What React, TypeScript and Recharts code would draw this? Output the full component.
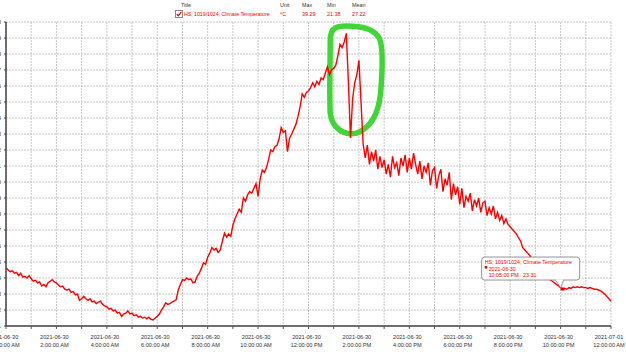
import React from 'react'
import { LineChart, Line, XAxis, YAxis, CartesianGrid, ReferenceArea, ReferenceDot } from 'recharts'

// Climate temperature, one reading every 5 minutes from 2021-06-30 00:00
const nightTemps = [
  24.64, 24.5, 24.4, 24.45, 24.3, 24.35, 24.15, 24.3, 24.05, 24.1, 24.0, 24.15,
  23.95, 23.8, 23.85, 23.7, 23.75, 23.5, 23.6, 23.45, 23.7, 23.8, 23.9, 23.75,
  23.7, 23.55, 23.45, 23.5, 23.3, 23.25, 23.3, 23.1, 23.15, 22.95, 23.0, 22.6,
  22.7, 22.85, 22.7, 22.6, 22.7, 22.5, 22.55, 22.4, 22.5, 22.55, 22.35, 22.25,
  22.2, 22.05, 22.1, 21.95, 22.0, 21.8, 21.85, 21.6, 21.75, 21.8, 21.95, 21.75,
  21.8, 21.65, 21.7, 21.55, 21.6, 21.5, 21.55, 21.45, 21.55, 21.42, 21.38, 21.5,
]
const morningTemps = [
  21.6, 21.75, 22.0, 22.2, 22.45, 22.35, 22.4, 22.5, 22.55, 22.65, 23.25, 23.6,
  23.9, 23.85, 24.0, 23.9, 23.95, 23.7, 23.75, 24.1, 24.3, 24.6, 24.95, 24.85,
  25.3, 25.55, 25.9, 25.75, 25.85, 25.6, 25.75, 26.3, 26.8, 26.55, 26.75, 26.6,
  27.3, 27.7, 28.0, 28.3, 28.1, 29.0, 28.8, 29.2, 29.4, 29.3, 29.6, 29.9,
  29.1, 30.2, 30.75, 30.6, 30.9, 31.4, 32.0, 31.9, 32.2, 32.3, 32.7, 33.4,
  33.1, 33.2, 31.9, 32.75, 33.0, 33.3, 33.6, 34.1, 34.7, 35.5, 35.3, 35.6,
]
const middayTemps = [
  35.7, 35.9, 36.2, 35.95, 36.3, 36.1, 36.5, 36.4, 36.8, 37.2, 36.7, 37.0,
  37.1, 37.3, 37.9, 38.6, 38.4, 38.75, 39.29, 36.2, 32.75, 35.2, 36.2, 36.7,
  37.6, 35.0, 32.4, 31.5, 32.3, 31.1, 31.9, 31.3, 32.0, 30.8, 31.6, 30.9,
]
const afternoonTemps = [
  31.4, 30.5, 31.1, 30.3, 31.6, 30.9, 31.2, 30.4, 31.5, 31.0, 31.7, 30.6,
  31.5, 30.8, 31.8, 31.1, 30.5, 31.3, 30.2, 31.0, 30.6, 31.2, 29.8, 30.7,
  30.9, 29.6, 30.4, 30.8, 29.4, 30.2, 29.8, 30.6, 28.9, 29.9, 29.2, 29.7,
  28.6, 29.6, 28.4, 29.1, 28.8, 29.3, 28.2, 28.9, 28.5, 29.0, 28.1, 28.7,
  28.8, 27.9, 28.4, 28.0, 28.5, 27.7, 28.1, 27.6, 27.9, 27.4, 27.7, 27.35,
]
const eveningTemps = [
  27.2, 27.05, 26.9, 26.75, 26.5, 26.3, 25.9, 25.75, 25.6, 25.45, 25.3, 25.15,
  25.0, 24.9, 24.75, 24.6, 24.45, 24.3, 24.05, 23.9, 23.8, 23.7, 23.6, 23.5,
  23.4, 23.31, 23.35, 23.3, 23.4, 23.35, 23.45, 23.4, 23.45, 23.4, 23.45, 23.4,
  23.4, 23.35, 23.4, 23.35, 23.3, 23.3, 23.25, 23.2, 23.1, 23.0, 22.85, 22.7,
  22.55,
]

const yTicks = [21, 22, 23, 24, 25, 26, 27, 28, 29, 30, 31, 32, 33, 34, 35, 36, 37, 38, 39, 40]
const hourTicks = [0, 1, 2, 3, 4, 5, 6, 7, 8, 9, 10, 11, 12, 13, 14, 15, 16, 17, 18, 19, 20, 21, 22, 23, 24]
const xTickLabels: Record<number, [string, string]> = {
  0: ['2021-06-30', '12:00:00 AM'],
  2: ['2021-06-30', '2:00:00 AM'],
  4: ['2021-06-30', '4:00:00 AM'],
  6: ['2021-06-30', '6:00:00 AM'],
  8: ['2021-06-30', '8:00:00 AM'],
  10: ['2021-06-30', '10:00:00 AM'],
  12: ['2021-06-30', '12:00:00 PM'],
  14: ['2021-06-30', '2:00:00 PM'],
  16: ['2021-06-30', '4:00:00 PM'],
  18: ['2021-06-30', '6:00:00 PM'],
  20: ['2021-06-30', '8:00:00 PM'],
  22: ['2021-06-30', '10:00:00 PM'],
  24: ['2021-07-01', '12:00:00 AM'],
}

const seriesTitle = 'HS; 1019/1024; Climate Temperature'
const statHeaders = ['Unit', 'Max', 'Min', 'Mean']
const statValues = ['°C', '39.29', '21.38', '27.22']

// hovered reading shown in the callout
const calloutHour = 22 + 5 / 60
const calloutValue = 23.31
const calloutDate = '2021-06-30'
const calloutTime = '10:05:00 PM'

const allTemps = [...nightTemps, ...morningTemps, ...middayTemps, ...afternoonTemps, ...eveningTemps]
const data = allTemps.map((temp, i) => ({ hour: i / 12, temp }))

const FONT = '"Liberation Sans", Arial, sans-serif'
const RED = '#f00000'

const TimeTick = ({ x, y, payload }: any) => {
  const label = xTickLabels[payload.value]
  if (!label) return null
  return (
    <text x={x} y={y} textAnchor="middle" fontSize={5.6} fill="#333" fontFamily={FONT}>
      <tspan x={x - 2} dy={8}>{label[0]}</tspan>
      <tspan x={x - 2} dy={8}>{label[1]}</tspan>
    </text>
  )
}

// hand drawn green loop around the spike
const GreenLoop = ({ x, y, width: w, height: h }: any) => {
  const p = (fx: number, fy: number) => `${x + fx * w},${y + fy * h}`
  const d =
    `M${p(0.02, 0.15)} C${p(0.0, 0.0)} ${p(0.2, 0.0)} ${p(0.45, 0.01)} ` +
    `C${p(0.7, 0.02)} ${p(0.85, 0.04)} ${p(0.95, 0.12)} ` +
    `C${p(1.02, 0.2)} ${p(1.0, 0.45)} ${p(0.97, 0.62)} ` +
    `C${p(0.93, 0.8)} ${p(0.8, 0.93)} ${p(0.5, 0.98)} ` +
    `C${p(0.25, 1.0)} ${p(0.05, 0.92)} ${p(0.02, 0.8)} ` +
    `C${p(0.0, 0.6)} ${p(0.02, 0.35)} ${p(0.02, 0.15)} Z`
  return <path d={d} fill="none" stroke="#36d42c" strokeWidth={5.5} strokeLinejoin="round" opacity={0.95} />
}

const Callout = ({ cx, cy }: any) => {
  if (cx == null || cy == null) return null
  return (
    <g fontFamily={FONT} fontSize={5.3}>
      <rect x={cx - 2} y={cy - 1.5} width={4} height={3} fill={RED} />
      <rect x={cx - 81} y={cy - 32} width={98} height={23} rx={3} fill="#fff" stroke="#7a7a7a" strokeWidth={0.8} />
      <path d={`M${cx - 7},${cy - 9} L${cx - 2},${cy - 1} L${cx + 1},${cy - 9}`} fill="#fff" stroke="#7a7a7a" strokeWidth={0.8} />
      <line x1={cx - 6.5} y1={cy - 9} x2={cx + 0.5} y2={cy - 9} stroke="#fff" strokeWidth={1.2} />
      <text x={cx - 78} y={cy - 25} fill={RED}>{seriesTitle}</text>
      <rect x={cx - 78} y={cy - 23} width={2.5} height={2.5} fill={RED} />
      <text x={cx - 74} y={cy - 18.5} fill={RED}>{calloutDate}</text>
      <text x={cx - 74} y={cy - 12.5} fill={RED}>{`${calloutTime} : ${calloutValue}`}</text>
    </g>
  )
}

function Header() {
  const cols = [280, 302, 327, 352]
  return (
    <div style={{ position: 'absolute', left: 0, top: 0, width: 626, height: 22, fontFamily: FONT, fontSize: 5.4 }}>
      <span style={{ position: 'absolute', left: 181, top: 2, color: '#333' }}>Title</span>
      {statHeaders.map((h, i) => (
        <span key={h} style={{ position: 'absolute', left: cols[i], top: 2, color: '#333' }}>{h}</span>
      ))}
      <svg style={{ position: 'absolute', left: 175, top: 10 }} width={8} height={8}>
        <rect x={0.5} y={0.5} width={7} height={7} fill="#fff" stroke="#888" />
        <path d="M1.8,4 L3.3,5.8 L6.3,1.8" fill="none" stroke={RED} strokeWidth={1.2} />
      </svg>
      <span style={{ position: 'absolute', left: 184, top: 10.5, color: RED, fontSize: 5.2 }}>{seriesTitle}</span>
      {statValues.map((v, i) => (
        <span key={i} style={{ position: 'absolute', left: cols[i], top: 10.5, color: RED }}>{v}</span>
      ))}
    </div>
  )
}

export default function App() {
  return (
    <div style={{ position: 'fixed', left: 0, top: 0, width: 626, height: 355, overflow: 'hidden', background: '#fff' }}>
      <Header />
      <div style={{ position: 'absolute', left: -40, top: 0 }}>
        <LineChart width={700} height={355} data={data} margin={{ top: 22, right: 49, bottom: 0, left: 6 }}>
          <CartesianGrid stroke="#c8c8c8" strokeDasharray="2 1" />
          <XAxis
            dataKey="hour"
            type="number"
            domain={[0, 24]}
            ticks={hourTicks}
            interval={0}
            height={29}
            tickSize={3}
            tickMargin={2}
            stroke="#555"
            axisLine={{ stroke: '#444', strokeWidth: 1.5 }}
            tick={<TimeTick />}
          />
          <YAxis
            type="number"
            domain={[21, 40]}
            ticks={yTicks}
            interval={0}
            width={40}
            tickSize={2}
            tickMargin={3}
            axisLine={{ stroke: '#444', strokeWidth: 1.5 }}
            tickLine={{ stroke: '#444' }}
            tick={{ fontSize: 6, fill: '#333', fontFamily: FONT }}
          />
          <Line
            type="linear"
            dataKey="temp"
            stroke="#ff0000"
            strokeWidth={1.4}
            dot={false}
            isAnimationActive={false}
          />
          <ReferenceArea
            x1={12.82}
            x2={14.92}
            y1={32.9}
            y2={39.8}
            ifOverflow="visible"
            shape={<GreenLoop />}
          />
          <ReferenceDot x={calloutHour} y={calloutValue} r={2} ifOverflow="visible" shape={<Callout />} />
        </LineChart>
      </div>
    </div>
  )
}
